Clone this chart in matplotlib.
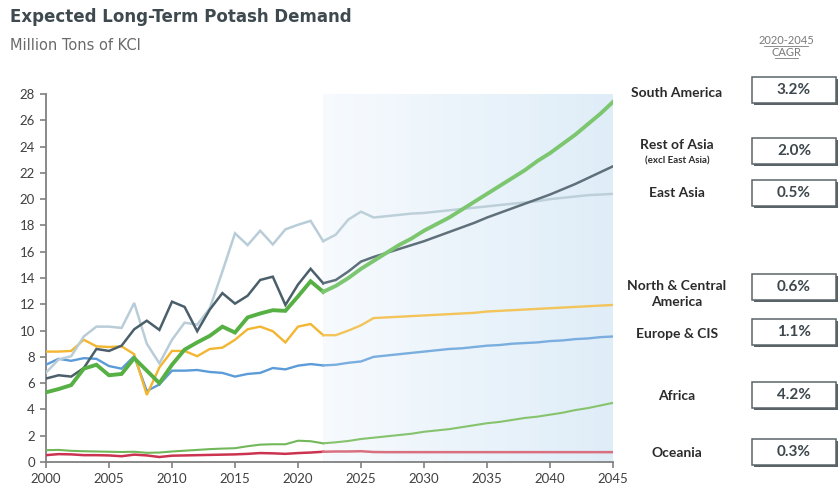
import numpy as np
import matplotlib.pyplot as plt
from matplotlib.patches import Rectangle
from matplotlib.lines import Line2D

# historical 2000-2022, projection 2022-2045 (million tons KCl)
years_hist = list(range(2000, 2023))
years_proj = list(range(2022, 2046))

south_america_hist = [5.3, 5.55, 5.85, 7.1, 7.4, 6.6, 6.7, 7.9, 6.95, 6.0, 7.4, 8.55, 9.1, 9.6,
                      10.3, 9.85, 11.0, 11.3, 11.55, 11.5, 12.6, 13.75, 12.95]
south_america_proj = [12.95, 13.4, 14.0, 14.7, 15.3, 15.9, 16.5, 17.0, 17.6, 18.1, 18.6, 19.2,
                      19.8, 20.4, 21.0, 21.6, 22.2, 22.9, 23.5, 24.2, 24.9, 25.7, 26.5, 27.4]

rest_asia_hist = [6.35, 6.6, 6.5, 7.15, 8.6, 8.45, 8.85, 10.1, 10.75, 10.05, 12.2, 11.8, 9.95,
                  11.6, 12.85, 12.05, 12.65, 13.85, 14.1, 11.95, 13.5, 14.7, 13.6]
rest_asia_proj = [13.6, 13.85, 14.5, 15.25, 15.6, 15.9, 16.2, 16.5, 16.8, 17.15, 17.5, 17.85,
                  18.2, 18.6, 18.95, 19.3, 19.65, 20.0, 20.35, 20.75, 21.15, 21.6, 22.05, 22.5]

east_asia_hist = [6.8, 7.8, 8.05, 9.55, 10.3, 10.3, 10.2, 12.1, 9.0, 7.5, 9.3, 10.6, 10.45,
                  11.7, 14.5, 17.4, 16.5, 17.6, 16.55, 17.7, 18.05, 18.35, 16.8]
east_asia_proj = [16.8, 17.3, 18.45, 19.05, 18.6, 18.7, 18.8, 18.9, 18.95, 19.05, 19.15, 19.25,
                  19.35, 19.45, 19.55, 19.65, 19.75, 19.85, 20.0, 20.1, 20.2, 20.3, 20.35, 20.4]

north_am_hist = [8.4, 8.4, 8.45, 9.3, 8.8, 8.75, 8.8, 8.2, 5.1, 7.2, 8.45, 8.45, 8.05, 8.6,
                 8.7, 9.3, 10.1, 10.3, 9.95, 9.1, 10.3, 10.5, 9.65]
north_am_proj = [9.65, 9.65, 10.0, 10.4, 10.95, 11.0, 11.05, 11.1, 11.15, 11.2, 11.25, 11.3,
                 11.35, 11.45, 11.5, 11.55, 11.6, 11.65, 11.7, 11.75, 11.8, 11.85, 11.9, 11.95]

europe_hist = [7.4, 7.85, 7.7, 7.9, 7.85, 7.3, 7.1, 8.05, 5.4, 5.9, 6.95, 6.95, 7.0, 6.85,
               6.78, 6.5, 6.7, 6.78, 7.15, 7.05, 7.33, 7.45, 7.35]
europe_proj = [7.35, 7.4, 7.55, 7.65, 8.0, 8.1, 8.2, 8.3, 8.4, 8.5, 8.6, 8.65, 8.75, 8.85,
               8.9, 9.0, 9.05, 9.1, 9.2, 9.25, 9.35, 9.4, 9.5, 9.55]

africa_hist = [0.9, 0.92, 0.85, 0.82, 0.8, 0.78, 0.76, 0.78, 0.7, 0.72, 0.8, 0.86, 0.92, 0.98,
               1.02, 1.05, 1.2, 1.32, 1.35, 1.35, 1.62, 1.58, 1.42]
africa_proj = [1.42, 1.5, 1.6, 1.75, 1.85, 1.95, 2.05, 2.15, 2.3, 2.4, 2.5, 2.65, 2.8, 2.95,
               3.05, 3.2, 3.35, 3.45, 3.6, 3.75, 3.95, 4.1, 4.3, 4.5]

oceania_hist = [0.52, 0.6, 0.58, 0.52, 0.52, 0.5, 0.44, 0.56, 0.5, 0.38, 0.48, 0.5, 0.52, 0.54,
                0.56, 0.58, 0.62, 0.68, 0.66, 0.62, 0.68, 0.72, 0.78]
oceania_proj = [0.78, 0.8, 0.8, 0.82, 0.76, 0.75, 0.75, 0.75, 0.75, 0.75, 0.75, 0.75, 0.75,
                0.75, 0.75, 0.75, 0.75, 0.75, 0.75, 0.75, 0.75, 0.75, 0.75, 0.75]

# right panel
regions = ['South America', 'Rest of Asia', 'East Asia', 'North & Central\nAmerica',
           'Europe & CIS', 'Africa', 'Oceania']
cagr = ['3.2%', '2.0%', '0.5%', '0.6%', '1.1%', '4.2%', '0.3%']
label_y = [93, 146, 193, 294, 334, 396, 453]   # pixel rows
box_y = [90, 151, 193, 287, 332, 395, 452]

W, H = 840, 491
fig = plt.figure(figsize=(W / 100, H / 100), dpi=100)
ax = fig.add_axes([46 / W, 1 - 462 / H, 567 / W, 368 / H])

# shaded forecast area
grad = np.linspace(0, 1, 256).reshape(1, -1)
c0 = np.array([0.968, 0.982, 0.995])
c1 = np.array([0.875, 0.93, 0.972])
img = c0[None, None, :] * (1 - grad[..., None]) + c1[None, None, :] * grad[..., None]
ax.imshow(img, extent=[2022, 2045, 0, 28.2], aspect='auto', zorder=0, interpolation='bilinear')

series = [
    (oceania_hist, oceania_proj, '#cc3350', '#d9707f', 1.8),
    (africa_hist, africa_proj, '#72b85a', '#86c36d', 1.5),
    (europe_hist, europe_proj, '#5b9bd8', '#7aaedf', 1.7),
    (north_am_hist, north_am_proj, '#f2b630', '#f2c45a', 1.7),
    (east_asia_hist, east_asia_proj, '#b9cdd8', '#bdd0da', 1.8),
    (rest_asia_hist, rest_asia_proj, '#4b5f6b', '#5f707b', 1.8),
    (south_america_hist, south_america_proj, '#56b043', '#7cc670', 2.8),
]
for h, p, ch, cp, lw in series:
    ax.plot(years_hist, h, color=ch, lw=lw, zorder=3, solid_joinstyle='miter')
    ax.plot(years_proj, p, color=cp, lw=lw, zorder=3)

ax.set_xlim(2000, 2045)
ax.set_ylim(0, 28)
ax.set_xticks(range(2000, 2046, 5))
ax.set_yticks(range(0, 29, 2))
for s in ['top', 'right']:
    ax.spines[s].set_visible(False)
for s in ['left', 'bottom']:
    ax.spines[s].set_color('#808080')
    ax.spines[s].set_linewidth(1.3)
ax.tick_params(axis='both', colors='#808080', length=4, width=1.2, labelcolor='#404040',
               labelsize=9.5, pad=4)
for lab in ax.get_xticklabels() + ax.get_yticklabels():
    lab.set_fontfamily('Lato')

# titles
fig.text(10 / W, 1 - 17 / H, 'Expected Long-Term Potash Demand', fontsize=12,
         fontweight='bold', color='#3e4a50', va='center', ha='left', family='DejaVu Sans')
fig.text(10 / W, 1 - 46 / H, 'Million Tons of KCl', fontsize=10.5, color='#6a6a6a',
         va='center', ha='left', family='DejaVu Sans')

# CAGR header
fig.text(786 / W, 1 - 40 / H, '2020-2045', fontsize=8, color='#7a7a7a', ha='center',
         va='center', family='Lato')
fig.text(786 / W, 1 - 52 / H, 'CAGR', fontsize=8, color='#7a7a7a', ha='center',
         va='center', family='Lato')
fig.add_artist(Line2D([764 / W, 808 / W], [1 - 46 / H, 1 - 46 / H], color='#7a7a7a',
                      lw=0.6, transform=fig.transFigure))
fig.add_artist(Line2D([775 / W, 798 / W], [1 - 58 / H, 1 - 58 / H], color='#7a7a7a',
                      lw=0.6, transform=fig.transFigure))

# region labels and boxes
for name, val, ly, by in zip(regions, cagr, label_y, box_y):
    if name == 'Rest of Asia':
        fig.text(677 / W, 1 - (ly - 1) / H, name, fontsize=10, fontweight='bold',
                 color='#2b2b2b', ha='center', va='center', family='Lato')
        fig.text(677 / W, 1 - (ly + 15) / H, '(excl East Asia)', fontsize=7,
                 fontweight='bold', color='#2b2b2b', ha='center', va='center', family='Lato')
    else:
        fig.text(677 / W, 1 - ly / H, name, fontsize=10, fontweight='bold', color='#2b2b2b',
                 ha='center', va='center', family='Lato', linespacing=1.3)
    bx, bw, bh = 752, 84, 26
    fig.add_artist(Rectangle(((bx + 2) / W, 1 - (by + bh / 2 + 2) / H), bw / W, bh / H,
                             transform=fig.transFigure, facecolor='#5a6468',
                             edgecolor='none', zorder=1))
    fig.add_artist(Rectangle((bx / W, 1 - (by + bh / 2) / H), bw / W, bh / H,
                             transform=fig.transFigure, facecolor='white',
                             edgecolor='#5a6468', lw=1.1, zorder=2))
    fig.text((bx + bw / 2) / W, 1 - by / H, val, fontsize=11, fontweight='bold',
             color='#3d474c', ha='center', va='center', family='Lato', zorder=3)

fig.savefig('out.png', dpi=100)
